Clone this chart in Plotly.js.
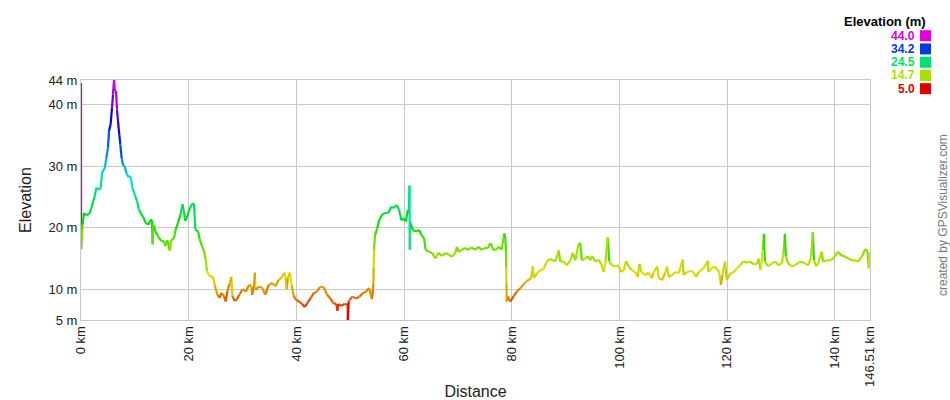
<!DOCTYPE html>
<html><head><meta charset="utf-8">
<script src="https://cdn.plot.ly/plotly-3.0.1.min.js"></script>
<style>html,body{margin:0;padding:0;background:#fff}#chart{width:950px;height:400px}</style>
</head><body><div id="chart"></div>
<script>
// Distance along track (km)
const distKm = [
0,0.02,0.3,0.56,1.0,1.6,1.92,2.54,2.85,3.3,3.65,3.9,4.4,4.7,5.01,5.2,5.5,5.76,5.94,6.13,
6.31,6.5,6.69,6.87,7.12,7.3,7.55,7.8,8.1,8.42,8.85,9.22,9.53,9.96,10.4,10.77,11.2,11.64,11.95,12.57,
12.94,13.18,13.3,13.43,13.8,14.3,14.92,15.41,15.66,16.03,16.47,16.78,17.27,17.58,18.01,18.45,18.88,19.13,19.37,19.74,
20.24,20.67,20.98,21.23,21.73,22.04,22.47,22.84,23.15,23.4,23.9,24.51,24.83,25.32,25.75,26.06,26.55,26.86,27.17,27.6,
27.91,28.1,28.53,28.9,29.4,30.0,30.6,31.2,31.6,31.8,32.1,32.3,32.4,33.0,33.6,34.2,34.85,35.5,36.1,36.7,
37.3,37.8,38.0,38.2,38.4,38.8,39.1,39.5,39.9,40.5,41.1,41.5,42.0,42.6,43.2,43.8,44.4,45.1,45.7,46.3,
46.9,47.4,47.6,47.8,48.3,48.9,49.5,49.55,49.7,49.9,50.4,51.1,51.7,52.3,52.9,53.5,54.0,54.2,54.3,54.35,
54.4,54.6,55.0,55.4,55.9,56.5,57.1,57.6,58.1,58.6,59.05,59.5,60.0,60.3,60.7,60.9,61.0,61.05,61.1,61.6,
62.2,62.8,63.3,63.7,64.0,64.6,65.2,65.8,66.4,67.0,67.7,68.3,68.9,69.5,69.8,70.1,70.7,71.3,71.9,72.5,
73.2,73.8,74.4,75.0,75.6,76.0,76.6,77.0,77.6,78.1,78.6,78.8,78.9,78.95,79.0,79.05,79.2,79.7,80.3,80.9,
81.6,82.1,82.6,83.1,83.6,83.9,84.1,84.7,85.3,85.9,86.5,87.0,87.46,88.1,88.7,89.0,89.6,90.2,90.9,91.3,
91.8,92.4,92.7,93.0,93.7,94.1,94.6,94.9,95.5,96.1,96.7,97.05,97.4,97.8,98.1,98.6,99.2,99.8,100.3,100.8,
101.2,101.7,102.3,102.9,103.4,103.7,104.05,104.8,105.4,106.0,106.3,107.0,107.3,107.9,108.5,108.8,109.1,109.7,110.4,111.0,
111.7,111.9,112.5,113.5,114.2,114.7,115.6,116.4,116.5,117.4,118.0,118.5,118.8,119.1,119.6,119.9,120.2,120.6,121.3,121.8,
122.4,123.0,123.6,124.2,124.8,125.5,125.8,126.2,126.6,126.8,127.0,127.6,128.3,128.9,129.5,130.1,130.4,130.7,130.9,131.3,
132.0,132.6,133.2,133.8,134.4,135.1,135.6,135.9,136.1,136.5,136.9,137.5,137.8,138.5,139.1,139.7,140.5,141.2,141.9,142.5,
143.1,143.7,144.3,145.0,145.6,146.0,146.3,146.4,146.51
];
// Elevation (m)
const elevM = [
43.5,16.5,20.5,22.4,22.0,22.3,23.2,25.1,26.5,26.2,26.4,28.9,29.7,31.3,33.0,35.7,36.8,39.5,41.6,44.0,
42.2,42.2,39.2,37.3,35.1,33.5,31.3,30.2,30.0,28.9,28.2,28.3,26.5,25.4,24.3,22.9,22.2,21.6,20.8,20.5,
21.3,21.2,17.3,20.5,19.4,18.6,17.8,17.8,17.0,18.0,16.3,18.0,18.3,19.7,20.8,22.1,23.8,22.4,21.1,21.9,
23.2,23.9,23.9,19.7,19.4,18.1,17.0,16.2,14.8,12.9,12.1,12.0,10.7,9.1,8.6,9.4,8.9,8.0,9.7,10.9,
12.0,8.9,8.1,8.3,9.1,10.0,9.6,10.7,10.6,9.1,10.5,12.7,9.9,10.4,10.3,9.1,10.7,11.0,10.5,11.5,
11.95,12.7,11.8,9.9,11.8,12.7,10.7,8.9,8.3,8.0,7.6,7.1,7.7,8.5,9.35,9.6,10.4,10.3,9.1,8.5,
7.7,7.6,6.5,7.6,7.3,7.6,7.5,5.0,8.0,8.3,8.8,8.5,8.8,9.35,9.6,10.2,8.4,9.9,11.0,13.5,
16.4,18.8,19.9,21.3,22.1,22.4,22.4,23.4,23.2,23.7,22.9,21.2,21.5,21.0,22.9,22.4,26.8,16.4,21.0,19.6,
19.4,19.6,18.7,18.3,16.4,16.1,15.9,15.0,15.9,15.4,15.9,15.6,15.3,15.9,16.9,16.1,16.4,16.7,16.4,16.8,
16.4,16.9,16.4,16.7,16.7,17.5,16.4,16.4,16.9,16.4,19.1,18.3,16.4,13.5,11.0,8.0,8.8,8.0,8.8,9.6,
10.2,10.7,11.2,11.5,11.8,13.7,11.8,12.6,13.1,13.3,14.5,14.9,14.8,14.5,16.3,14.5,14.5,13.9,14.7,15.9,
14.7,17.4,17.5,14.7,15.0,15.4,14.7,15.4,14.5,14.8,13.9,12.8,14.5,18.4,14.5,13.9,13.7,13.9,12.8,13.1,
14.6,13.7,13.1,12.8,12.0,14.1,12.8,12.3,12.7,11.8,12.7,13.7,11.8,11.5,12.7,13.7,12.0,12.3,12.8,12.6,
14.8,12.3,12.8,13.0,12.0,12.8,13.4,14.6,12.8,13.7,13.4,12.8,10.7,12.3,14.5,11.5,12.0,12.6,12.8,13.4,
13.9,14.5,14.3,14.5,14.1,14.1,15.0,13.1,16.3,19.0,14.5,13.7,14.2,14.5,13.9,14.2,15.5,19.0,15.3,14.2,
13.7,13.9,14.3,14.5,14.2,13.9,15.5,19.3,14.7,13.7,14.2,16.1,14.5,14.7,14.7,15.0,16.1,15.5,15.3,15.0,
14.7,14.7,14.5,15.3,16.5,16.3,13.4,15.8,15.8
];
const xTickVals = [0,20,40,60,80,100,120,140,146.51];
const xTickText = ["0 km","20 km","40 km","60 km","80 km","100 km","120 km","140 km","146.51 km"];
const yTickVals = [5,10,20,30,40,44];
const yTickText = ["5 m","10 m","20 m","30 m","40 m","44 m"];
const legendValues = [44.0,34.2,24.5,14.7,5.0];
const legendLabels = ["44.0","34.2","24.5","14.7","5.0"];
const elevMin = 5.0, elevMax = 44.0;

function hueFor(e){
  const t = Math.max(0, Math.min(1, (e - elevMin) / (elevMax - elevMin)));
  return t * 300;
}
function colorForHue(h){ return 'hsl(' + h.toFixed(1) + ',100%,44%)'; }
function colorFor(e){ return colorForHue(hueFor(e)); }

// Group segments by colour bin, each segment coloured by its starting point
const bins = {};
for (let i = 0; i < distKm.length - 1; i++) {
  const key = Math.round(hueFor(elevM[i]) / 2) * 2;
  if (!bins[key]) bins[key] = {x: [], y: [], first: i};
  bins[key].x.push(distKm[i], distKm[i+1], null);
  bins[key].y.push(elevM[i], elevM[i+1], null);
}
const traces = Object.keys(bins).map(k => ({
  type: 'scatter', mode: 'lines', x: bins[k].x, y: bins[k].y,
  line: {color: colorForHue(+k), width: 2.2}, hoverinfo: 'skip', connectgaps: false,
  _first: bins[k].first
})).sort((a,b) => a._first - b._first);
traces.forEach(t => delete t._first);

const plotL = 81, plotR = 870, plotT = 80, plotB = 320;
function px2paperX(px){ return (px - plotL) / (plotR - plotL); }
function px2paperY(py){ return (plotB - py) / (plotB - plotT); }

const annotations = [
  {text: '<b>Elevation (m)</b>', x: px2paperX(928), y: px2paperY(21), xref: 'paper', yref: 'paper',
   xanchor: 'right', yanchor: 'middle', showarrow: false, font: {size: 13, color: '#000'}},
  {text: 'created by GPSVisualizer.com', x: px2paperX(943), y: px2paperY(215), xref: 'paper', yref: 'paper',
   xanchor: 'center', yanchor: 'middle', showarrow: false, textangle: -90, font: {size: 12, color: '#777'}}
];
const shapes = [];
legendValues.forEach((v, i) => {
  const cy = 35.7 + i * 13.25;
  annotations.push({text: '<b>' + legendLabels[i] + '</b>', x: px2paperX(916), y: px2paperY(cy),
    xref: 'paper', yref: 'paper', xanchor: 'right', yanchor: 'middle', showarrow: false,
    font: {size: 12, color: colorFor(v)}, borderpad: 0});
  shapes.push({type: 'rect', xref: 'paper', yref: 'paper',
    x0: px2paperX(920), x1: px2paperX(931), y0: px2paperY(cy + 5.5), y1: px2paperY(cy - 5.5),
    fillcolor: colorFor(v), line: {width: 0}});
});

const layout = {
  width: 950, height: 400,
  margin: {l: plotL, r: 950 - plotR, t: plotT, b: 400 - plotB, pad: 0},
  paper_bgcolor: '#fff', plot_bgcolor: '#fff', showlegend: false,
  font: {family: '"Liberation Sans", Arial, sans-serif', size: 13, color: '#222'},
  xaxis: {range: [0, 146.51], tickmode: 'array', tickvals: xTickVals, ticktext: xTickText, tickangle: -90,
    showgrid: true, gridcolor: '#c8c8c8', gridwidth: 1, zeroline: false, showline: true, linecolor: '#c8c8c8',
    linewidth: 1, mirror: true, ticks: '', automargin: false, fixedrange: true, layer: 'below traces',
    tickfont: {size: 13, color: '#222'},
    title: {text: 'Distance', font: {size: 16, color: '#222'}, standoff: 4}},
  yaxis: {range: [5, 44], tickmode: 'array', tickvals: yTickVals, ticktext: yTickText,
    showgrid: true, gridcolor: '#c8c8c8', gridwidth: 1, zeroline: false, showline: true, linecolor: '#c8c8c8',
    linewidth: 1, mirror: true, ticks: '', automargin: false, fixedrange: true, layer: 'below traces',
    tickfont: {size: 13, color: '#222'},
    title: {text: 'Elevation', font: {size: 16, color: '#222'}, standoff: 12}},
  annotations: annotations, shapes: shapes
};
Plotly.newPlot('chart', traces, layout, {displayModeBar: false, staticPlot: true});
</script></body></html>
